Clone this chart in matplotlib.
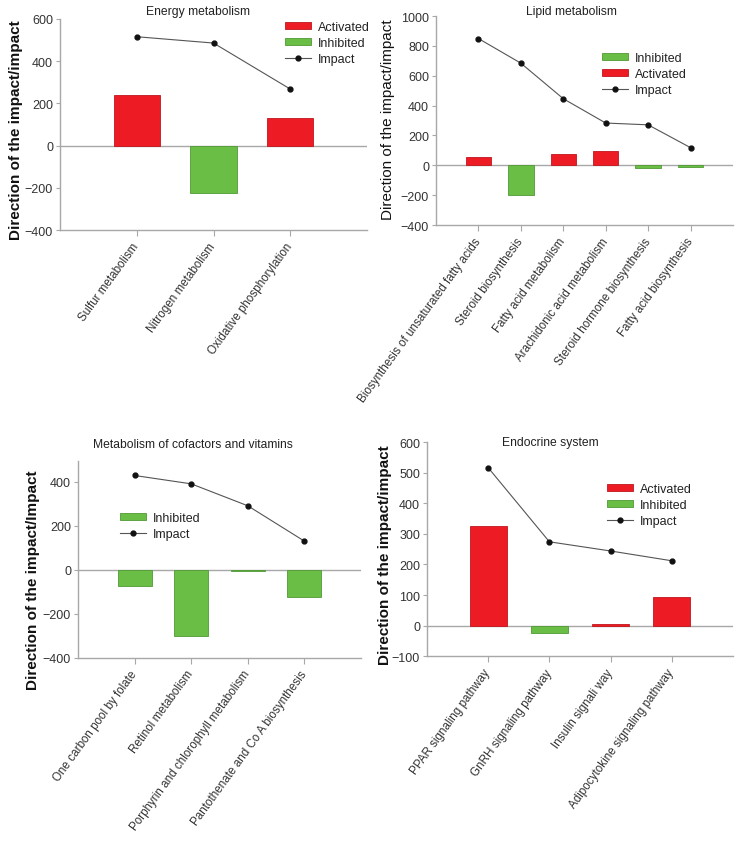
import matplotlib
matplotlib.use("Agg")
import matplotlib.pyplot as plt
from matplotlib.patches import Patch
from matplotlib.lines import Line2D

plt.rcParams['font.family'] = ['Liberation Sans', 'DejaVu Sans']

W, H = 742, 845
RED = '#ED1C24'
GREEN = '#6ABD45'
GRAY = '#a8a8a8'

# ---- data ----
energy_cats = ['Sulfur metabolism', 'Nitrogen metabolism', 'Oxidative phosphorylation']
energy_dir = [242, -227, 131]
energy_impact = [516, 486, 268]

lipid_cats = ['Biosynthesis of unsaturated fatty acids', 'Steroid biosynthesis',
              'Fatty acid metabolism', 'Arachidonic acid metabolism',
              'Steroid hormone biosynthesis', 'Fatty acid biosynthesis']
lipid_dir = [58, -196, 74, 94, -15, -12]
lipid_impact = [849, 684, 446, 283, 271, 118]

cofactor_cats = ['One carbon pool by folate', 'Retinol metabolism',
                 'Porphyrin and chlorophyll metabolism', 'Pantothenate and Co A biosynthesis']
cofactor_dir = [-73, -300, -5, -125]
cofactor_impact = [429, 391, 291, 130]

endo_cats = ['PPAR signaling pathway', 'GnRH signaling pathway', 'Insulin signali way',
             'Adipocytokine signaling pathway']
endo_dir = [324, -25, 5, 93]
endo_impact = [516, 274, 244, 212]

fig = plt.figure(figsize=(W / 100, H / 100), dpi=100)


def px_axes(l, t, r, b):
    return fig.add_axes([l / W, 1 - b / H, (r - l) / W, (b - t) / H])


def panel(rect, cats, vals, impact, ylim, yticks, title, title_xy,
          ylabel, ylabel_xy, ylabel_weight, legend_order, legend_xy):
    ax = px_axes(*rect)
    x = list(range(len(cats)))
    colors = [RED if v > 0 else GREEN for v in vals]
    edges = ['#c0151c' if v > 0 else '#4f9a34' for v in vals]
    ax.axhline(0, color=GRAY, lw=1, zorder=1)
    ax.bar(x, vals, width=0.6, color=colors, edgecolor=edges, linewidth=0.6, zorder=2)
    ax.plot(x, impact, color='#555555', lw=0.8, marker='o', markersize=3.5,
            markerfacecolor='#111111', markeredgecolor='#111111', zorder=3)
    ax.set_xlim(-1, len(cats))
    ax.set_ylim(*ylim)
    ax.set_yticks(yticks)
    ax.set_xticks(x)
    ax.set_xticklabels(cats, rotation=54, ha='right', va='center',
                       rotation_mode='anchor', fontsize=8.4, color='#333333')
    ax.tick_params(axis='x', direction='out', length=4, width=0.8, color=GRAY, pad=6)
    ax.tick_params(axis='y', direction='out', length=3, width=0.8, color=GRAY,
                   labelsize=9, labelcolor='#333333', pad=2)
    for s in ['top', 'right']:
        ax.spines[s].set_visible(False)
    for s in ['left', 'bottom']:
        ax.spines[s].set_color(GRAY)
        ax.spines[s].set_linewidth(1)

    fig.text(title_xy[0] / W, 1 - title_xy[1] / H, title, fontsize=8.7,
             ha='center', va='center', color='#222222')
    fig.text(ylabel_xy[0] / W, 1 - ylabel_xy[1] / H, ylabel, fontsize=11,
             fontweight=ylabel_weight, rotation=90, ha='center', va='center', color='#111111')

    handles = []
    for name in legend_order:
        if name == 'Activated':
            handles.append(Patch(facecolor=RED, edgecolor='#c0151c', linewidth=0.6, label=name))
        elif name == 'Inhibited':
            handles.append(Patch(facecolor=GREEN, edgecolor='#4f9a34', linewidth=0.6, label=name))
        else:
            handles.append(Line2D([], [], color='#555555', lw=0.8, marker='o', markersize=3.5,
                                  markerfacecolor='#111111', markeredgecolor='#111111', label=name))
    fig.legend(handles=handles, loc='upper left',
               bbox_to_anchor=(legend_xy[0] / W, 1 - legend_xy[1] / H),
               frameon=False, fontsize=9, borderpad=0, borderaxespad=0,
               handlelength=2.1, handleheight=0.5, handletextpad=0.55,
               labelspacing=0.33, labelcolor='#222222')
    return ax


panel((60, 20, 367, 231), energy_cats, energy_dir, energy_impact,
      (-400, 600), [-400, -200, 0, 200, 400, 600],
      'Energy metabolism', (198, 12),
      'Direction of the impact/impact', (16, 130), 'bold',
      ['Activated', 'Inhibited', 'Impact'], (285, 22))

panel((436, 17, 733, 226), lipid_cats, lipid_dir, lipid_impact,
      (-400, 1000), [-400, -200, 0, 200, 400, 600, 800, 1000],
      'Lipid metabolism', (571, 12),
      'Direction of the impact/impact', (388, 120), 'normal',
      ['Inhibited', 'Activated', 'Impact'], (602, 53))

panel((78, 462, 361, 658.5), cofactor_cats, cofactor_dir, cofactor_impact,
      (-400, 495), [-400, -200, 0, 200, 400],
      'Metabolism of cofactors and vitamins', (193, 445),
      'Direction of the impact/Impact', (33, 580), 'bold',
      ['Inhibited', 'Impact'], (120, 513))

panel((427, 443, 733, 657.3), endo_cats, endo_dir, endo_impact,
      (-100, 600), [-100, 0, 100, 200, 300, 400, 500, 600],
      'Endocrine system', (550, 443),
      'Direction of the impact/impact', (385, 555), 'bold',
      ['Activated', 'Inhibited', 'Impact'], (607, 484))

fig.savefig('out.png', dpi=100)
